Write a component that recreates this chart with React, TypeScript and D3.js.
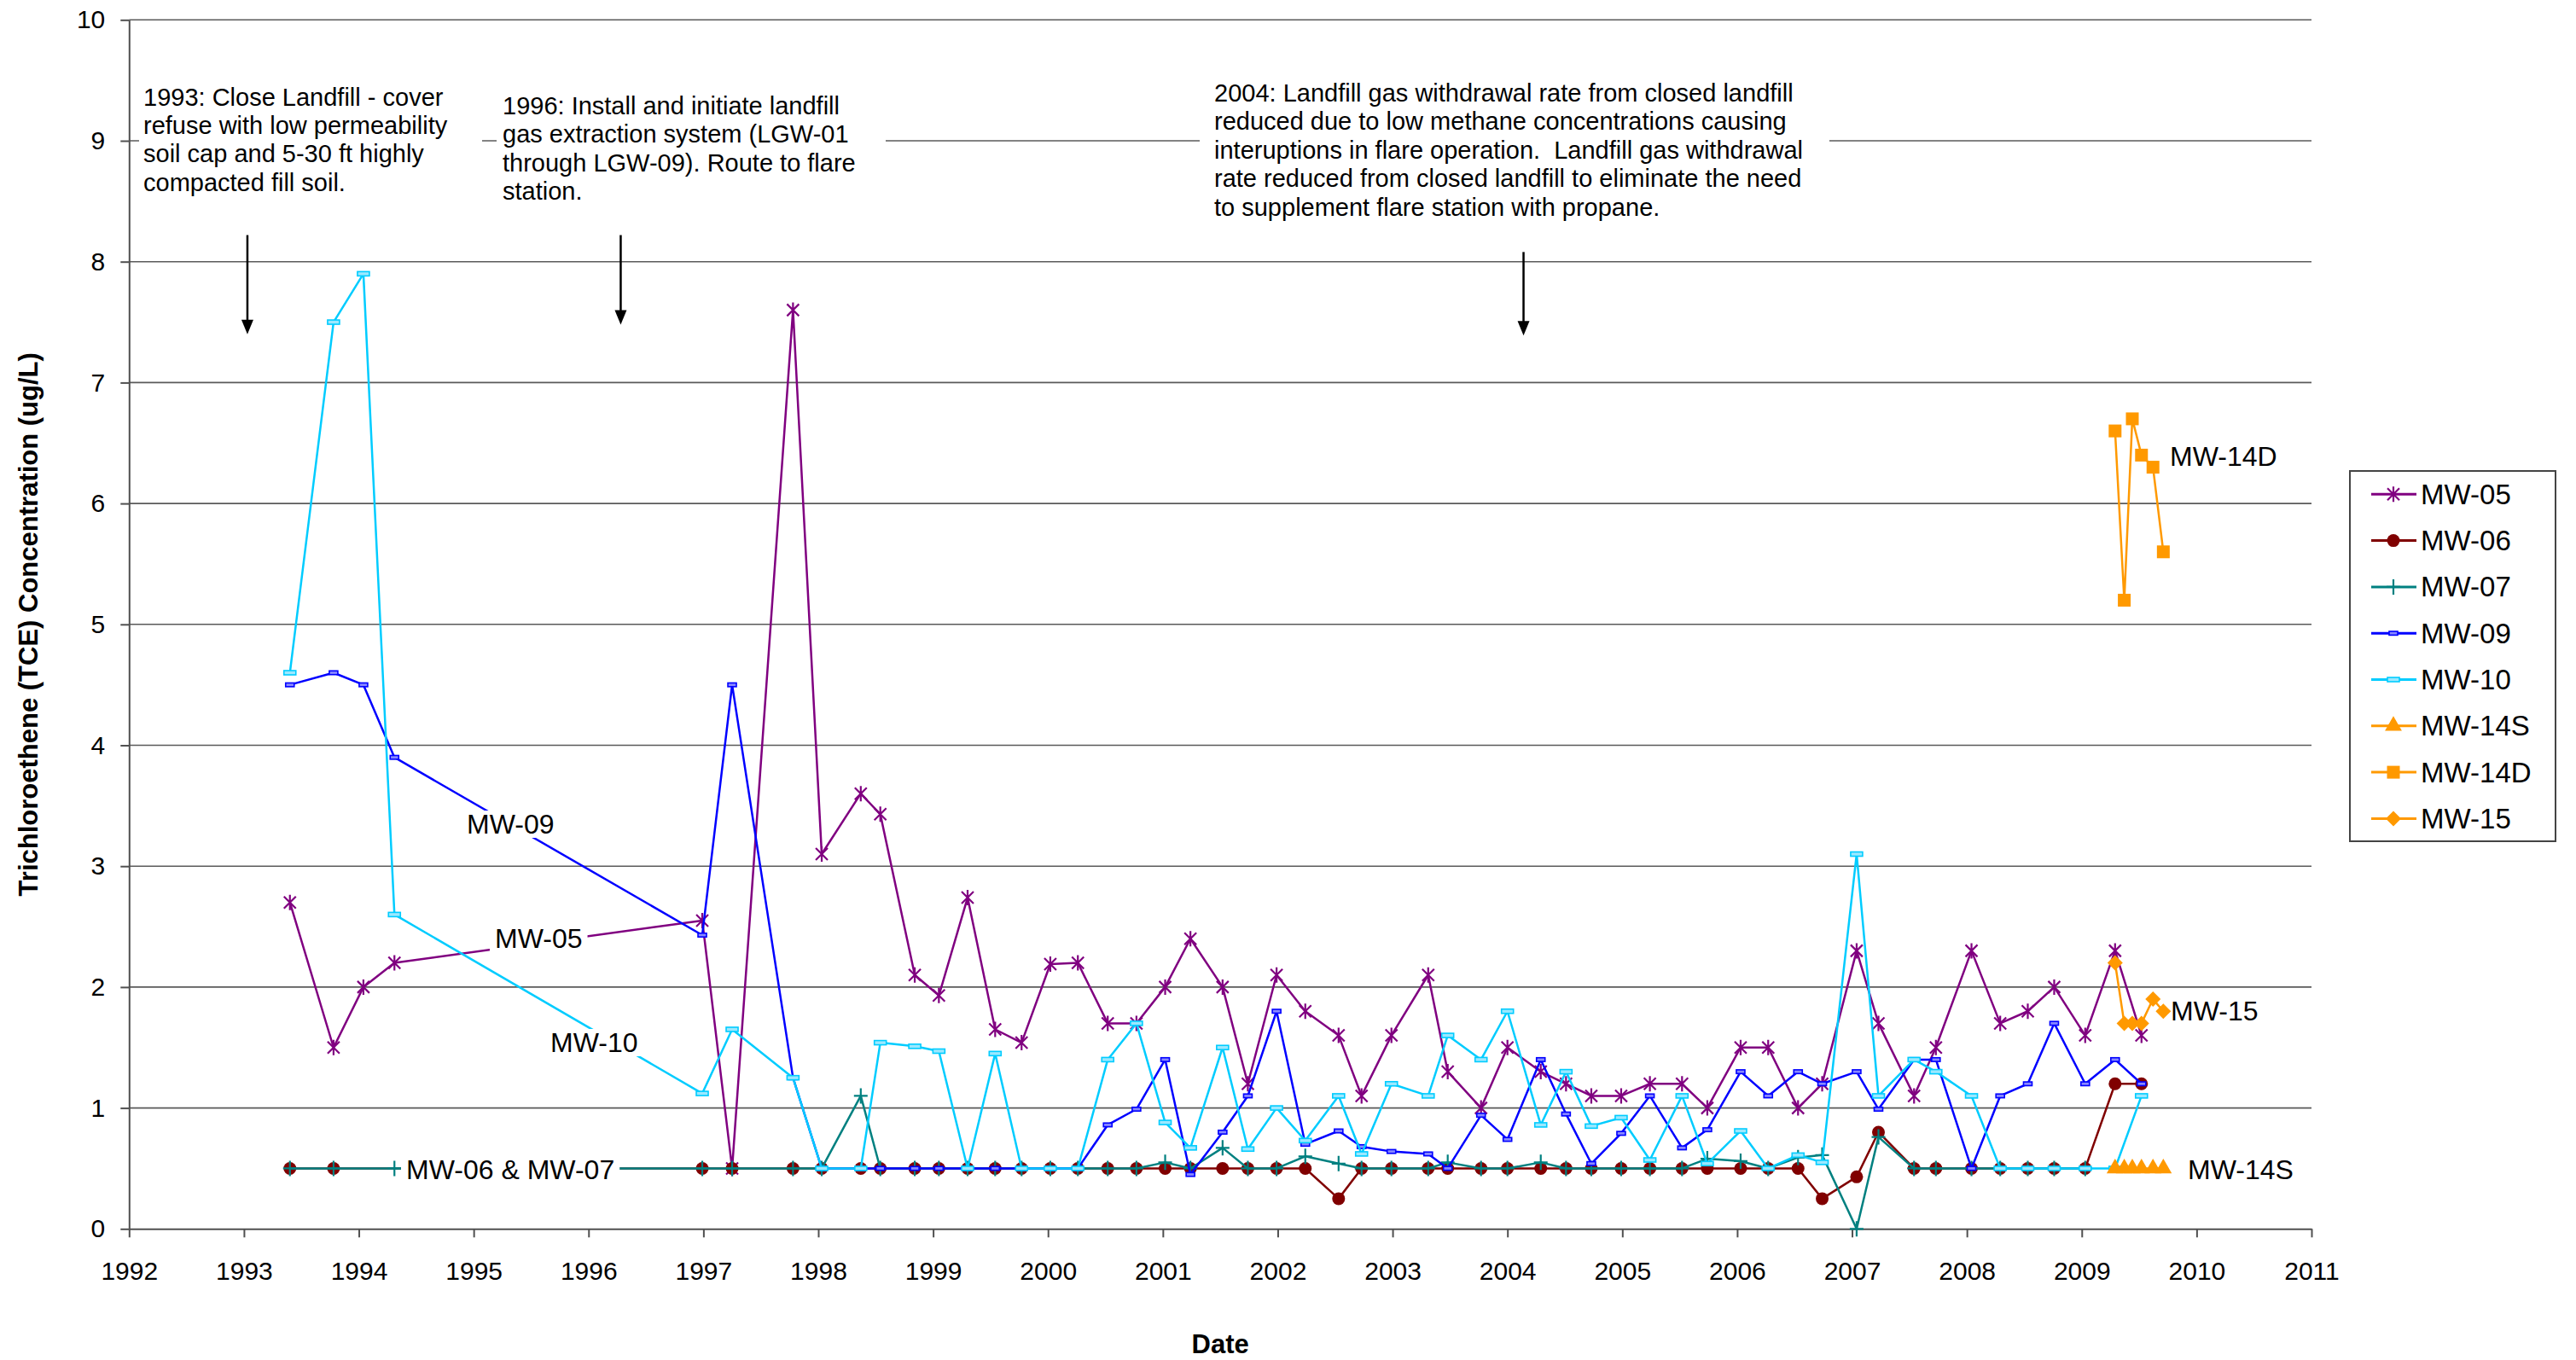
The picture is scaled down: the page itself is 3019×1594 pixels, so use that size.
import React, { useEffect, useRef } from 'react'
import * as d3 from 'd3'

const WIDTH = 3019
const HEIGHT = 1594
const FONT = 'Liberation Sans, Arial, Helvetica, sans-serif'

// quarterly sampling events (decimal years) for the older wells
const sampleDates = [
  1993.40, 1993.78, 1994.04, 1994.31, 1996.99, 1997.25, 1997.78, 1998.03, 1998.37, 1998.54,
  1998.84, 1999.05, 1999.30, 1999.54, 1999.77, 2000.02, 2000.26, 2000.52, 2000.77, 2001.02,
  2001.24, 2001.52, 2001.74, 2001.99, 2002.24, 2002.53, 2002.73, 2002.99, 2003.31, 2003.48,
  2003.77, 2004.00, 2004.29, 2004.51, 2004.73, 2004.99, 2005.24, 2005.52, 2005.74, 2006.03,
  2006.27, 2006.53, 2006.74, 2007.04, 2007.23, 2007.54, 2007.73, 2008.04, 2008.29, 2008.53,
  2008.76, 2009.03, 2009.29, 2009.52,
]

const mw05 = [
  2.7, 1.5, 2.0, 2.2, 2.55, 0.5, 7.6, 3.1, 3.6, 3.43,
  2.1, 1.93, 2.74, 1.65, 1.54, 2.19, 2.2, 1.7, 1.7, 2.0,
  2.4, 2.0, 1.2, 2.1, 1.8, 1.6, 1.1, 1.6, 2.1, 1.3,
  1.0, 1.5, 1.3, 1.2, 1.1, 1.1, 1.2, 1.2, 1.0, 1.5,
  1.5, 1.0, 1.2, 2.3, 1.7, 1.1, 1.5, 2.3, 1.7, 1.8,
  2.0, 1.6, 2.3, 1.6,
]

const mw06 = [
  0.5, 0.5, null, null, 0.5, 0.5, 0.5, 0.5, 0.5, 0.5,
  0.5, 0.5, 0.5, 0.5, 0.5, 0.5, 0.5, 0.5, 0.5, 0.5,
  0.5, 0.5, 0.5, 0.5, 0.5, 0.25, 0.5, 0.5, 0.5, 0.5,
  0.5, 0.5, 0.5, 0.5, 0.5, 0.5, 0.5, 0.5, 0.5, 0.5,
  0.5, 0.5, 0.25, 0.43, 0.8, 0.5, 0.5, 0.5, 0.5, 0.5,
  0.5, 0.5, 1.2, 1.2,
]

const mw07 = [
  0.5, 0.5, null, 0.5, 0.5, 0.5, 0.5, 0.5, 1.1, 0.5,
  0.5, 0.5, 0.5, 0.5, 0.5, 0.5, 0.5, 0.5, 0.5, 0.55,
  0.5, 0.67, 0.5, 0.5, 0.6, 0.54, 0.5, 0.5, 0.5, 0.55,
  0.5, 0.5, 0.55, 0.5, 0.5, 0.5, 0.5, 0.5, 0.58, 0.56,
  0.5, 0.59, 0.61, 0.0, 0.76, 0.5, 0.5, 0.5, 0.5, 0.5,
  0.5, 0.5, null, null,
]

const mw09 = [
  4.5, 4.6, 4.5, 3.9, 2.43, 4.5, 1.25, 0.5, 0.5, 0.5,
  0.5, 0.5, 0.5, 0.5, 0.5, 0.5, 0.5, 0.86, 0.99, 1.4,
  0.45, 0.8, 1.1, 1.8, 0.7, 0.81, 0.68, 0.64, 0.62, 0.5,
  0.94, 0.74, 1.4, 0.95, 0.54, 0.79, 1.1, 0.67, 0.82, 1.3,
  1.1, 1.3, 1.2, 1.3, 0.99, 1.4, 1.4, 0.5, 1.1, 1.2,
  1.7, 1.2, 1.4, 1.2,
]

const mw10 = [
  4.6, 7.5, 7.9, 2.6, 1.12, 1.65, 1.25, 0.5, 0.5, 1.54,
  1.51, 1.47, 0.5, 1.45, 0.5, 0.5, 0.5, 1.4, 1.7, 0.88,
  0.67, 1.5, 0.66, 1.0, 0.73, 1.1, 0.62, 1.2, 1.1, 1.6,
  1.4, 1.8, 0.86, 1.3, 0.85, 0.92, 0.57, 1.1, 0.54, 0.81,
  0.5, 0.61, 0.55, 3.1, 1.1, 1.4, 1.3, 1.1, 0.5, 0.5,
  0.5, 0.5, 0.5, 1.1,
]

// 2009 wells, sampled more often
const lateDates = [2009.29, 2009.37, 2009.44, 2009.52, 2009.62, 2009.71]
const mw14s = [0.5, 0.5, 0.5, 0.5, 0.5, 0.5]
const mw14d = [6.6, 5.2, 6.7, 6.4, 6.3, 5.6]
const mw15 = [2.2, 1.7, 1.7, 1.7, 1.9, 1.8]

const yearTicks = d3.range(1992, 2012)
const concTicks = d3.range(0, 11)

const note1993 = [
  '1993: Close Landfill - cover',
  'refuse with low permeability',
  'soil cap and 5-30 ft highly',
  'compacted fill soil.',
]
const note1996 = [
  '1996: Install and initiate landfill',
  'gas extraction system (LGW-01',
  'through LGW-09). Route to flare',
  'station.',
]
const note2004 = [
  '2004: Landfill gas withdrawal rate from closed landfill',
  'reduced due to low methane concentrations causing',
  'interuptions in flare operation.  Landfill gas withdrawal',
  'rate reduced from closed landfill to eliminate the need',
  'to supplement flare station with propane.',
]

// arrows: year, from value, to value
const arrowYears = [1993.03, 1996.28, 2004.14]
const arrowFrom = [8.22, 8.22, 8.08]
const arrowTo = [7.4, 7.48, 7.39]

const series = [
  { name: 'MW-05', dates: sampleDates, values: mw05, color: '#800080', shape: 'star' },
  { name: 'MW-06', dates: sampleDates, values: mw06, color: '#800000', shape: 'circle' },
  { name: 'MW-07', dates: sampleDates, values: mw07, color: '#008080', shape: 'plus' },
  { name: 'MW-09', dates: sampleDates, values: mw09, color: '#0000ff', shape: 'dash' },
  { name: 'MW-10', dates: sampleDates, values: mw10, color: '#00ccff', shape: 'wdash' },
  { name: 'MW-14S', dates: lateDates, values: mw14s, color: '#ff9900', shape: 'triangle' },
  { name: 'MW-14D', dates: lateDates, values: mw14d, color: '#ff9900', shape: 'square' },
  { name: 'MW-15', dates: lateDates, values: mw15, color: '#ff9900', shape: 'diamond' },
]

function addMarker(g: any, shape: string, color: string) {
  if (shape === 'star') {
    g.append('path').attr('d', 'M-7,-7L7,7M-7,7L7,-7M0,-9L0,9')
      .attr('stroke', color).attr('stroke-width', 2.2).attr('fill', 'none')
  } else if (shape === 'circle') {
    g.append('circle').attr('r', 7.5).attr('fill', color)
  } else if (shape === 'plus') {
    g.append('path').attr('d', 'M-8,0L8,0M0,-9L0,9')
      .attr('stroke', color).attr('stroke-width', 2.2).attr('fill', 'none')
  } else if (shape === 'dash') {
    g.append('rect').attr('x', -5).attr('y', -2.2).attr('width', 10).attr('height', 4.4)
      .attr('fill', '#8888ff').attr('stroke', color).attr('stroke-width', 1.6)
  } else if (shape === 'wdash') {
    g.append('rect').attr('x', -7).attr('y', -2.5).attr('width', 14).attr('height', 5)
      .attr('fill', '#9be8ff').attr('stroke', color).attr('stroke-width', 1.6)
  } else if (shape === 'triangle') {
    g.append('path').attr('d', d3.symbol(d3.symbolTriangle, 170)()).attr('fill', color)
  } else if (shape === 'square') {
    g.append('rect').attr('x', -7.5).attr('y', -7.5).attr('width', 15).attr('height', 15).attr('fill', color)
  } else if (shape === 'diamond') {
    g.append('path').attr('d', 'M0,-9L9,0L0,9L-9,0Z').attr('fill', color)
  }
}

export default function App() {
  const svgRef = useRef<SVGSVGElement>(null)

  useEffect(() => {
    if (!svgRef.current) return
    document.body.style.margin = '0'

    const svg = d3.select(svgRef.current)
    svg.selectAll('*').remove()

    const x = d3.scaleLinear().domain([1992, 2011]).range([151.3, 2709])
    const y = d3.scaleLinear().domain([0, 10]).range([1440.3, 23.3])

    svg.append('rect').attr('width', WIDTH).attr('height', HEIGHT).attr('fill', '#fff')

    // horizontal grid
    svg.append('g').selectAll('line')
      .data(concTicks.filter(d => d > 0))
      .enter().append('line')
      .attr('x1', x(1992)).attr('x2', x(2011))
      .attr('y1', d => y(d)).attr('y2', d => y(d))
      .attr('stroke', '#5a5a5a').attr('stroke-width', 1.6)

    // axes
    const xAxis = svg.append('g')
      .attr('transform', `translate(0,${y(0)})`)
      .call(d3.axisBottom(x).tickValues(yearTicks).tickFormat(d3.format('d')).tickSize(10).tickSizeOuter(0).tickPadding(28))
    const yAxis = svg.append('g')
      .attr('transform', `translate(${x(1992)},0)`)
      .call(d3.axisLeft(y).tickValues(concTicks).tickSize(10).tickSizeOuter(0).tickPadding(18))
    for (const ax of [xAxis, yAxis]) {
      ax.selectAll('path, line').attr('stroke', '#505050').attr('stroke-width', 2)
      ax.selectAll('text').attr('fill', '#000').style('font-family', FONT).style('font-size', '30px')
    }

    // annotation notes with white boxes over the 9 grid line
    const notes = [
      { lines: note1993, left: 168, top: 113.5, box: [163, 565] },
      { lines: note1996, left: 589, top: 124, box: [582, 1038] },
      { lines: note2004, left: 1423, top: 109, box: [1406, 2144] },
    ]
    const lineGap = 33.4
    notes.forEach(n => {
      svg.append('rect')
        .attr('x', n.box[0]).attr('y', n.top - 22)
        .attr('width', n.box[1] - n.box[0]).attr('height', n.lines.length * lineGap + 10)
        .attr('fill', '#fff')
      const t = svg.append('text')
        .style('font-family', FONT).style('font-size', '29px').style('white-space', 'pre')
        .attr('fill', '#000')
      n.lines.forEach((line, i) => {
        t.append('tspan').attr('x', n.left).attr('y', n.top + i * lineGap)
          .attr('dominant-baseline', 'central').text(line)
      })
    })

    // arrows
    arrowYears.forEach((yr, i) => {
      const ax = x(yr)
      const y1 = y(arrowFrom[i])
      const y2 = y(arrowTo[i])
      svg.append('line').attr('x1', ax).attr('x2', ax).attr('y1', y1).attr('y2', y2 - 14)
        .attr('stroke', '#000').attr('stroke-width', 2.5)
      svg.append('path').attr('d', `M${ax - 7},${y2 - 17}L${ax + 7},${y2 - 17}L${ax},${y2}Z`).attr('fill', '#000')
    })

    // series
    const line = d3.line<any>().x(d => x(d.t)).y(d => y(d.v))
    series.forEach(s => {
      const pts = s.dates.map((t, i) => ({ t, v: s.values[i] })).filter(p => p.v !== null)
      const sg = svg.append('g')
      sg.append('path').datum(pts).attr('d', line)
        .attr('fill', 'none').attr('stroke', s.color).attr('stroke-width', 2.5).attr('stroke-linejoin', 'round')
      sg.selectAll('g.pt').data(pts).enter().append('g')
        .attr('class', 'pt')
        .attr('transform', d => `translate(${x(d.t)},${y(d.v)})`)
        .each(function () { addMarker(d3.select(this), s.shape, s.color) })
    })

    // in-plot well labels
    const labels = [
      { text: 'MW-09', left: 547, cy: 966, bg: true },
      { text: 'MW-05', left: 580, cy: 1100, bg: true },
      { text: 'MW-10', left: 645, cy: 1222, bg: true },
      { text: 'MW-06 & MW-07', left: 476, cy: 1371, bg: true },
      { text: 'MW-14D', left: 2543, cy: 535, bg: false },
      { text: 'MW-15', left: 2544, cy: 1185, bg: false },
      { text: 'MW-14S', left: 2564, cy: 1371, bg: false },
    ]
    labels.forEach(l => {
      const lg = svg.append('g')
      const bgRect = lg.append('rect').attr('fill', '#fff')
      const t = lg.append('text').attr('x', l.left).attr('y', l.cy)
        .attr('dominant-baseline', 'central')
        .style('font-family', FONT).style('font-size', '32px').attr('fill', '#000')
        .text(l.text)
      if (l.bg) {
        const bb = (t.node() as SVGTextElement).getBBox()
        bgRect.attr('x', bb.x - 6).attr('y', bb.y + 2).attr('width', bb.width + 12).attr('height', bb.height - 4)
      } else {
        bgRect.remove()
      }
    })

    // legend
    const legend = svg.append('g')
    legend.append('rect').attr('x', 2754).attr('y', 552).attr('width', 241).attr('height', 434)
      .attr('fill', '#fff').attr('stroke', '#444').attr('stroke-width', 2)
    series.forEach((s, i) => {
      const ly = 579.3 + i * 54.3
      legend.append('line').attr('x1', 2779).attr('x2', 2832).attr('y1', ly).attr('y2', ly)
        .attr('stroke', s.color).attr('stroke-width', 3)
      addMarker(legend.append('g').attr('transform', `translate(2805,${ly})`), s.shape, s.color)
      legend.append('text').attr('x', 2837).attr('y', ly).attr('dominant-baseline', 'central')
        .style('font-family', FONT).style('font-size', '33px').attr('fill', '#000')
        .text(s.name)
    })

    // axis titles
    svg.append('text')
      .attr('transform', `translate(33,${(y(0) + y(10)) / 2}) rotate(-90)`)
      .attr('text-anchor', 'middle').attr('dominant-baseline', 'central')
      .style('font-family', FONT).style('font-size', '31px').style('font-weight', 'bold')
      .text('Trichloroethene (TCE) Concentration (ug/L)')
    svg.append('text')
      .attr('x', (x(1992) + x(2011)) / 2).attr('y', 1575)
      .attr('text-anchor', 'middle').attr('dominant-baseline', 'central')
      .style('font-family', FONT).style('font-size', '31px').style('font-weight', 'bold')
      .text('Date')
  }, [])

  return (
    <div style={{ position: 'absolute', left: 0, top: 0 }}>
      <svg ref={svgRef} width={WIDTH} height={HEIGHT} style={{ display: 'block' }} />
    </div>
  )
}
